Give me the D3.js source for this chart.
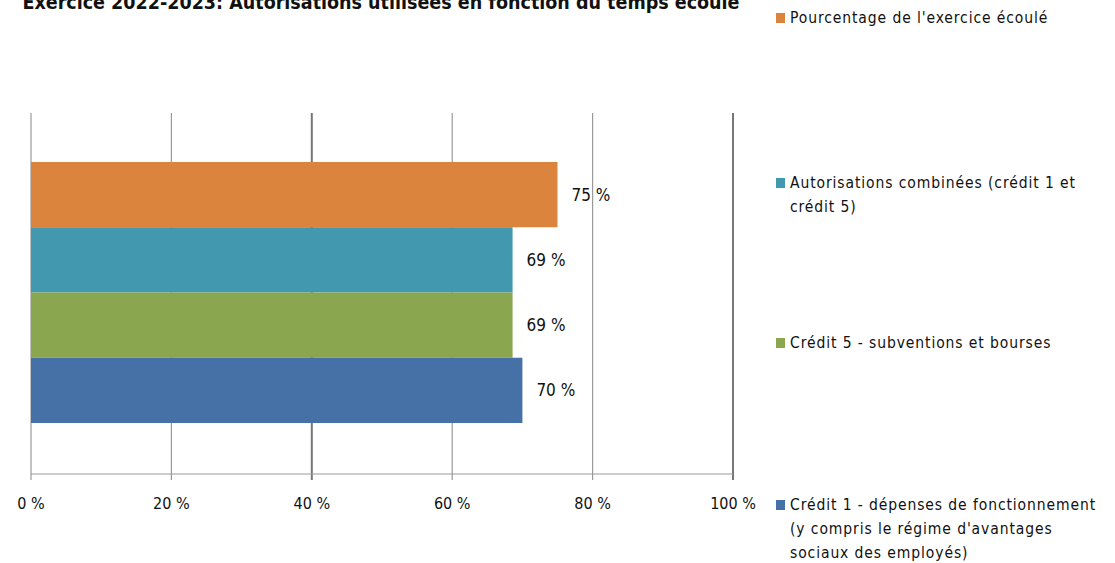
<!DOCTYPE html>
<html><head><meta charset="utf-8">
<script src="https://cdn.jsdelivr.net/npm/d3@7"></script>
<style>body{margin:0;background:#fff}svg{display:block}</style>
</head><body>
<svg id="c" width="1115" height="563"></svg>
<script>
const title = "Exercice 2022-2023: Autorisations utilisées en fonction du temps écoulé";
// series top-to-bottom as drawn
const seriesNames = [
  "Pourcentage de l'exercice écoulé",
  "Autorisations combinées (crédit 1 et crédit 5)",
  "Crédit 5  - subventions et bourses",
  "Crédit 1 - dépenses de fonctionnement (y compris le régime d'avantages sociaux des employés)"
];
const legendLines = [
  ["Pourcentage de l'exercice écoulé"],
  ["Autorisations combinées (crédit 1 et", "crédit 5)"],
  ["Crédit 5  - subventions et bourses"],
  ["Crédit 1 - dépenses de fonctionnement", "(y compris le régime d'avantages", "sociaux des employés)"]
];
const seriesValues = [75, 68.6, 68.6, 70];
const seriesColors = ["#DB843D", "#4198AF", "#8AA64E", "#4571A7"];
const xTicks = [0, 20, 40, 60, 80, 100];

const svg = d3.select("#c");
const font = "'DejaVu Sans Condensed', 'DejaVu Sans', sans-serif";
const m = {left: 31, right: 733, top: 113, bottom: 474};

const x = d3.scaleLinear().domain([0, 100]).range([m.left, m.right]);
const y = d3.scaleBand().domain(d3.range(seriesValues.length))
  .range([m.top + 49, m.bottom - 51]).padding(0);

// title
svg.append("text").attr("x", 381).attr("y", 9).attr("text-anchor", "middle")
  .attr("font-family", font).attr("font-weight", "bold").attr("font-size", 19.5)
  .attr("fill", "#111").text(title);

// gridlines
const g = svg.append("g");
g.selectAll("line.grid").data(xTicks).join("line")
  .attr("x1", d => x(d)).attr("x2", d => x(d))
  .attr("y1", m.top).attr("y2", m.bottom + 6)
  .attr("stroke", d => (d === 40 || d === 100) ? "#777" : "#999")
  .attr("stroke-width", d => (d === 40 || d === 100) ? 2 : 1.2);

// bottom axis line
g.append("line").attr("x1", m.left).attr("x2", m.right).attr("y1", m.bottom).attr("y2", m.bottom)
  .attr("stroke", "#999").attr("stroke-width", 1.2);

// bars
svg.append("g").selectAll("rect").data(seriesValues).join("rect")
  .attr("x", x(0)).attr("y", (d, i) => y(i))
  .attr("width", d => x(d) - x(0)).attr("height", y.bandwidth())
  .attr("fill", (d, i) => seriesColors[i]);

// value labels
const fmt = v => d3.format(".0f")(v) + " %";
svg.append("g").selectAll("text").data(seriesValues).join("text")
  .attr("x", d => x(d) + 14).attr("y", (d, i) => y(i) + y.bandwidth() / 2 + 6)
  .attr("font-family", font).attr("font-size", 17).attr("fill", "#111")
  .text(d => fmt(d));

// tick labels
svg.append("g").selectAll("text").data(xTicks).join("text")
  .attr("x", d => x(d)).attr("y", 509).attr("text-anchor", "middle")
  .attr("font-family", font).attr("font-size", 16).attr("fill", "#111")
  .text(d => d + " %");

// legend
const legY = [18, 183, 343, 505];
const lg = svg.append("g");
legendLines.forEach((lines, i) => {
  lg.append("rect").attr("x", 776).attr("y", legY[i] - 5).attr("width", 9).attr("height", 10)
    .attr("fill", seriesColors[i]);
  lines.forEach((t, j) => {
    lg.append("text").attr("x", 790).attr("y", legY[i] + j * 24 + 5)
      .attr("font-family", font).attr("font-size", 15.5).attr("letter-spacing", 0.9)
      .attr("fill", "#111").text(t);
  });
});
</script>
</body></html>
